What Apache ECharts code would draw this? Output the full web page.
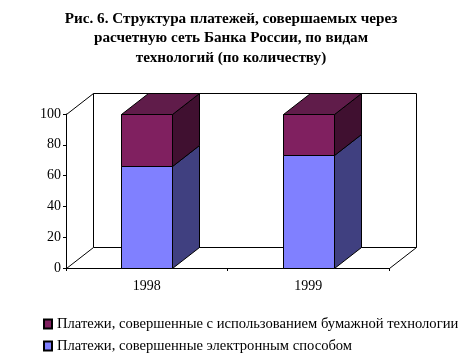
<!DOCTYPE html>
<html><head><meta charset="utf-8">
<style>html,body{margin:0;padding:0;background:#fff}#c{width:466px;height:361px}</style>
<script src="https://cdn.jsdelivr.net/npm/echarts@6/dist/echarts.min.js"></script>
</head><body><div id="c"></div>
<script>
const categories = ['1998', '1999'];
const electronic = [66, 73.5];
const paper = [34, 26.5];
const nameElectronic = 'Платежи, совершенные электронным способом';
const namePaper = 'Платежи, совершенные с использованием бумажной технологии';
const titleText = 'Рис. 6. Структура платежей, совершаемых через\nрасчетную сеть Банка России, по видам\nтехнологий (по количеству)';
const FONT = '"Liberation Serif","Times New Roman",serif';
const DX = 27, DY = -21, BAR = 51;
const line = {stroke:'#000', lineWidth:1, fill:null};

function wall(params, api){
  const c = params.coordSys;
  const x0=c.x+.5, x1=c.x+c.width+.5, yT=c.y+.5, yB=c.y+c.height+.5;
  const segs=[
    [[x0,yT],[x0+DX,yT+DY]],[[x0+DX,yT+DY],[x1+DX,yT+DY]],[[x1+DX,yT+DY],[x1+DX,yB+DY]],
    [[x0+DX,yT+DY],[x0+DX,yB+DY]],[[x0+DX,yB+DY],[x1+DX,yB+DY]],[[x0,yB],[x0+DX,yB+DY]],[[x1,yB],[x1+DX,yB+DY]]
  ];
  return {type:'group',children:segs.map(s=>({type:'polyline',shape:{points:s},style:line}))};
}
function box(colors, withTop){
  return function(params, api){
    const cx = api.coord([api.value(0),0])[0];
    const l = Math.round(cx-BAR/2)+.5, r = l+BAR;
    const yb = Math.round(api.coord([0,api.value(1)])[1])+.5;
    const yt = Math.round(api.coord([0,api.value(2)])[1])+.5;
    const st = c=>({fill:c,stroke:'#000',lineWidth:1});
    const ch=[
      {type:'polygon',shape:{points:[[r,yb],[r+DX,yb+DY],[r+DX,yt+DY],[r,yt]]},style:st(colors[1])},
      {type:'polygon',shape:{points:[[l,yb],[r,yb],[r,yt],[l,yt]]},style:st(colors[0])}
    ];
    if(withTop) ch.push({type:'polygon',shape:{points:[[l,yt],[l+DX,yt+DY],[r+DX,yt+DY],[r,yt]]},style:st(colors[2])});
    return {type:'group',children:ch};
  };
}
const chart = echarts.init(document.getElementById('c'),null,{renderer:'canvas'});
chart.setOption({
  animation:false,
  backgroundColor:'#fff',
  title:{text:titleText,left:231,top:9,textAlign:'center',padding:0,
    textStyle:{fontFamily:FONT,fontSize:15.2,fontWeight:'bold',color:'#000',lineHeight:19.5}},
  legend:{orient:'vertical',left:43,top:315,padding:0,icon:'rect',itemWidth:8,itemHeight:9,itemGap:4,
    data:[namePaper,nameElectronic],selectedMode:false,
    textStyle:{fontFamily:FONT,fontSize:14.6,color:'#000',lineHeight:15,padding:[3,0,0,0]}},
  grid:{left:66,top:114,width:323,height:154,containLabel:false},
  xAxis:{type:'category',data:categories,boundaryGap:true,
    axisLine:{lineStyle:{color:'#000'}},
    axisTick:{show:true,length:3,alignWithLabel:false,lineStyle:{color:'#000'}},
    axisLabel:{fontFamily:FONT,fontSize:14,color:'#000',margin:11}},
  yAxis:{type:'value',min:0,max:100,interval:20,
    splitLine:{show:false},
    axisLine:{show:true,lineStyle:{color:'#000'}},
    axisTick:{show:true,length:3,lineStyle:{color:'#000'}},
    axisLabel:{fontFamily:FONT,fontSize:14,color:'#000',margin:5}},
  series:[
    {type:'custom',name:'wall',silent:true,renderItem:wall,data:[[0,0]],z:1},
    {type:'custom',name:nameElectronic,silent:true,itemStyle:{color:'#8080ff',borderColor:'#000',borderWidth:1},
      renderItem:box(['#8080ff','#404080'],false),encode:{x:0,y:2},
      data:categories.map((c,i)=>[i,0,electronic[i]]),z:2},
    {type:'custom',name:namePaper,silent:true,itemStyle:{color:'#802060',borderColor:'#000',borderWidth:1},
      renderItem:box(['#802060','#401030','#601c4a'],true),encode:{x:0,y:2},
      data:categories.map((c,i)=>[i,electronic[i],electronic[i]+paper[i]]),z:3}
  ]
});
</script></body></html>
